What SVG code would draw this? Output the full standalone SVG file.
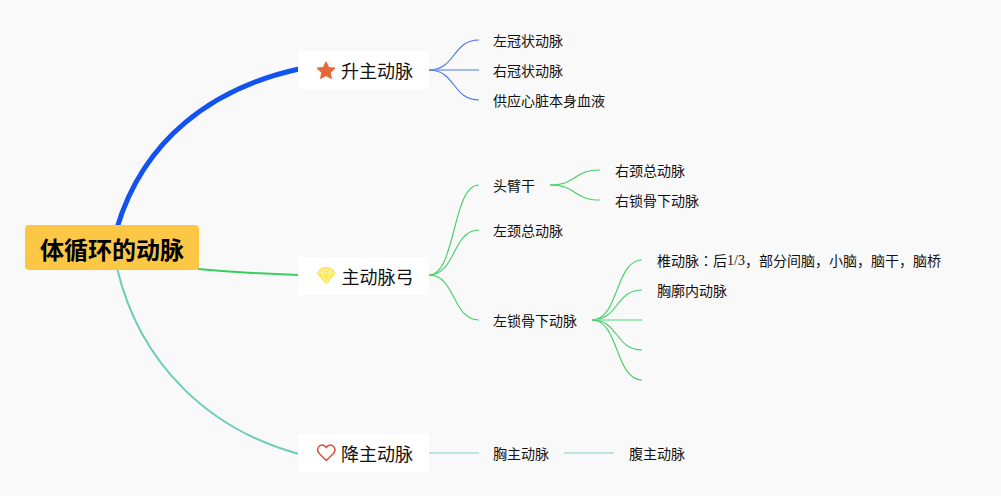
<svg xmlns="http://www.w3.org/2000/svg" width="1001" height="496" viewBox="0 0 1001 496">
<style>
text{font-family:"Noto Sans CJK SC","Liberation Sans",sans-serif;fill:#111;dominant-baseline:central}
.t{font-size:14px}.m{font-size:18px}
.r{font-size:24px;font-weight:700;fill:#000}
.box{fill:#fff}
path.c{fill:none;stroke-linecap:butt}
.b{stroke:#4a74e8;stroke-width:1.1}
.g{stroke:#45cf68;stroke-width:1.1}
.e{stroke:#a8ddd3;stroke-width:1.6}
</style>
<rect width="1001" height="496" fill="#f9f9f9"/>
<g id="connectors">
<path class="c" d="M117 228C143 140 212 88 299 69" stroke="#1152f0" stroke-width="5"/>
<path class="c" d="M198 269C230 272 265 274 299 275" stroke="#38cf5c" stroke-width="2"/>
<path class="c" d="M117 268C140 365 210 430 299 454" stroke="#6ccdb9" stroke-width="2"/>
<path class="c b" d="M429 70C456 70 452 40 479 40"/>
<path class="c b" d="M429 70H479" style="stroke:#86a4ee;stroke-width:1.6"/>
<path class="c b" d="M429 70C456 70 452 100 479 100"/>
<path class="c g" d="M429 275C456 275 452 185 479 185"/>
<path class="c g" d="M429 275C456 275 452 230 479 230"/>
<path class="c g" d="M429 275C456 275 452 320 479 320"/>
<path class="c g" d="M550 185C577 185 573 170 600 170"/>
<path class="c g" d="M550 185C577 185 573 200 600 200"/>
<path class="c g" d="M592 320C619 320 615 260 642 260"/>
<path class="c g" d="M592 320C619 320 615 290 642 290"/>
<path class="c g" d="M592 320H642" style="stroke:#86e09c;stroke-width:1.6"/>
<path class="c g" d="M592 320C619 320 615 350 642 350"/>
<path class="c g" d="M592 320C619 320 615 380 642 380"/>
<path class="c e" d="M429 453H479"/>
<path class="c e" d="M564 453H614"/>
</g>
<g id="root"><rect x="25" y="225" width="174" height="45" rx="4" fill="#fdc746"/><text class="r" x="112" y="248" text-anchor="middle">体循环的动脉</text></g>
<g id="n1"><rect class="box" x="298" y="51" width="131" height="38" rx="2"/>
<path d="M326 62l2.600 5.500 6 .7-4.400 4.100 1.100 6-5.300-2.900-5.300 2.900 1.100-6-4.400-4.100 6-.7z" fill="#e5683a" stroke="#e5683a" stroke-width="1.200" stroke-linejoin="round"/>
<text class="m" x="341" y="70">升主动脉</text></g>
<g id="n2"><rect class="box" x="298" y="257" width="131" height="38" rx="2"/>
<path d="M322 268h8.500l4.500 5-8.800 10.500-8.700-10.500z" fill="#fbe85a" stroke="#fbe85a" stroke-width="1.500" stroke-linejoin="round"/>
<path d="M318 273h16.500M322.500 268.500l-1 4.500 4.800 10 4.700-10-1-4.500M326.200 269l-4.700 4M326.200 269l4.700 4" fill="none" stroke="#fff8c0" stroke-width=".8"/>
<text class="m" x="341.500" y="276">主动脉弓</text></g>
<g id="n3"><rect class="box" x="298" y="434" width="131" height="38" rx="2"/>
<path d="M326.300 460.500l-6.600-6.500c-4.600-4.800-.3-10 3.800-8.700 1.400.4 2.200 1.300 2.800 2.400.6-1.100 1.400-2 2.800-2.400 4.100-1.300 8.400 3.900 3.800 8.700z" fill="none" stroke="#d9503f" stroke-width="1.500" stroke-linejoin="round"/>
<text class="m" x="341" y="453">降主动脉</text></g>
<g id="n1a"><text class="t" x="493" y="40">左冠状动脉</text></g>
<g id="n1b"><text class="t" x="493" y="70">右冠状动脉</text></g>
<g id="n1c"><text class="t" x="493" y="100">供应心脏本身血液</text></g>
<g id="n2a"><text class="t" x="493" y="185">头臂干</text></g>
<g id="n2a1"><text class="t" x="615" y="170">右颈总动脉</text></g>
<g id="n2a2"><text class="t" x="615" y="200">右锁骨下动脉</text></g>
<g id="n2b"><text class="t" x="493" y="230">左颈总动脉</text></g>
<g id="n2c"><text class="t" x="493" y="320">左锁骨下动脉</text></g>
<g id="n2c1"><text class="t" x="657" y="260">椎动脉<tspan style="font-family:'Noto Sans CJK TC',sans-serif">：</tspan>后<tspan style="font-family:'Liberation Serif',serif">1/3</tspan>，部分间脑，小脑，脑干，脑桥</text></g>
<g id="n2c2"><text class="t" x="657" y="290">胸廓内动脉</text></g>
<g id="n3a"><text class="t" x="493" y="453">胸主动脉</text></g>
<g id="n3b"><text class="t" x="629" y="453">腹主动脉</text></g>
</svg>
